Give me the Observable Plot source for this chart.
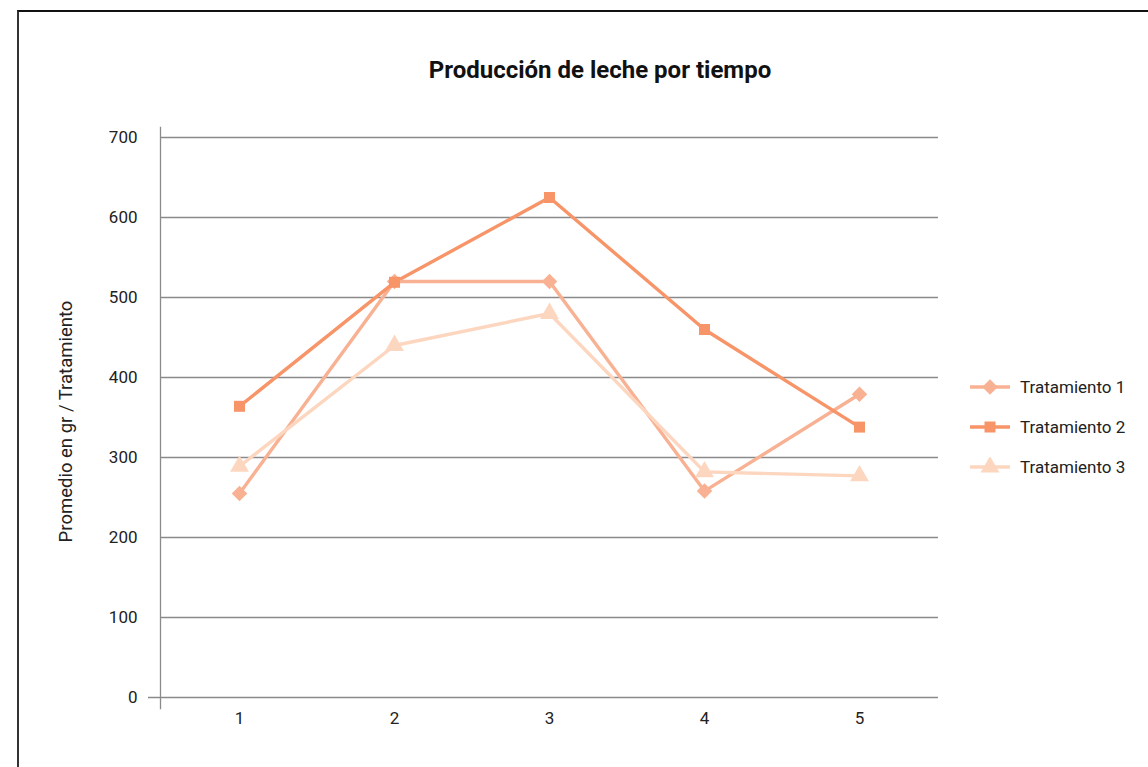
<!DOCTYPE html>
<html>
<head>
<meta charset="utf-8">
<script src="https://cdn.jsdelivr.net/npm/d3@7"></script>
<script src="https://cdn.jsdelivr.net/npm/@observablehq/plot@0.6"></script>
<style>
  html, body { margin: 0; padding: 0; background: #fff; }
  #wrap { position: relative; width: 1148px; height: 767px; overflow: hidden; font-family: Roboto, "Open Sans", sans-serif; }
  #frame { position: absolute; left: 17px; top: 10px; width: 1200px; height: 800px; border-top: 2px solid #111; border-left: 2px solid #333; box-sizing: border-box; }
  #title { position: absolute; left: 0; width: 1200px; top: 56px; text-align: center; font-size: 24px; font-weight: 700; color: #111; }
  #chart { position: absolute; left: 0; top: 0; }
  #legend { position: absolute; left: 970px; top: 367px; font-size: 17px; color: #222; }
  #legend .row { display: flex; align-items: center; height: 40px; }
  #legend svg { margin-right: 10px; }
</style>
</head>
<body>
<div id="wrap">
  <div id="frame"></div>
  <div id="title">Producción de leche por tiempo</div>
  <div id="chart"></div>
  <div id="legend"></div>
</div>
<script>
// Sampling times (x categories)
const tiempos = [1, 2, 3, 4, 5];
// Average milk production (g) per treatment
const tratamiento1 = [255, 520, 520, 258, 379];
const tratamiento2 = [364, 519, 625, 460, 338];
const tratamiento3 = [289, 440, 480, 282, 277];
const seriesNames = ["Tratamiento 1", "Tratamiento 2", "Tratamiento 3"];
const seriesColors = ["#F8B192", "#F79468", "#FDD6C0"];
const seriesSymbols = ["diamond2", "square", "triangle"];
const yTicks = [0, 100, 200, 300, 400, 500, 600, 700];

const valuesBySeries = [tratamiento1, tratamiento2, tratamiento3];
const rows = valuesBySeries.flatMap((vals, s) =>
  vals.map((v, i) => ({serie: seriesNames[s], tiempo: tiempos[i], valor: v}))
);

const lineMarks = seriesNames.map((name, s) => {
  const d = rows.filter(r => r.serie === name);
  return Plot.line(d, {x: "tiempo", y: "valor", stroke: seriesColors[s], strokeWidth: 3.4});
});
const dotMarks = seriesNames.map((name, s) => {
  const d = rows.filter(r => r.serie === name);
  return Plot.dot(d, {x: "tiempo", y: "valor", symbol: () => seriesSymbols[s], fill: seriesColors[s], stroke: "none", r: s === 1 ? 6.2 : 7});
});

const chart = Plot.plot({
  width: 1148,
  height: 767,
  marginLeft: 160,
  marginRight: 210,
  marginTop: 137,
  marginBottom: 70,
  style: {fontFamily: "Roboto, 'Open Sans', sans-serif", fontSize: "17px", color: "#222", background: "transparent"},
  x: {type: "point", domain: tiempos, padding: 0.5},
  y: {domain: [0, 700]},
  symbol: {domain: seriesSymbols, range: seriesSymbols},
  marks: [
    Plot.ruleY(yTicks.filter(t => t > 0), {stroke: "#8a8a8a", strokeWidth: 1.3}),
    Plot.ruleY([0], {stroke: "#8a8a8a", strokeWidth: 1.3, insetLeft: -12}),
    Plot.frame({anchor: "left", stroke: "#8a8a8a", strokeWidth: 1.3, insetTop: -10, insetBottom: -11}),
    Plot.axisY(yTicks, {tickSize: 0, tickPadding: 23, label: null, fontSize: 17, fill: "#222"}),
    Plot.axisX(tiempos, {tickSize: 0, tickPadding: 14, label: null, fontSize: 17, fill: "#222"}),
    Plot.text(["Promedio en gr / Tratamiento"], {
      frameAnchor: "left", textAnchor: "middle", dx: -94, dy: 4, rotate: -90, fontSize: 18.5, fill: "#222"
    }),
    ...lineMarks,
    ...dotMarks
  ]
});
document.getElementById("chart").appendChild(chart);

// Legend: line segment with marker, then series name
const legend = d3.select("#legend");
seriesNames.forEach((name, s) => {
  const row = legend.append("div").attr("class", "row");
  const svg = row.append("svg").attr("width", 40).attr("height", 20);
  svg.append("line").attr("x1", 0).attr("x2", 40).attr("y1", 10).attr("y2", 10)
    .attr("stroke", seriesColors[s]).attr("stroke-width", 3.4);
  const sym = {diamond2: d3.symbolDiamond2, square: d3.symbolSquare, triangle: d3.symbolTriangle}[seriesSymbols[s]];
  const r = s === 1 ? 6.2 : 7;
  svg.append("path").attr("transform", "translate(20,10)")
    .attr("d", d3.symbol(sym, Math.PI * r * r)())
    .attr("fill", seriesColors[s]);
  row.append("span").text(name);
});
</script>
</body>
</html>
